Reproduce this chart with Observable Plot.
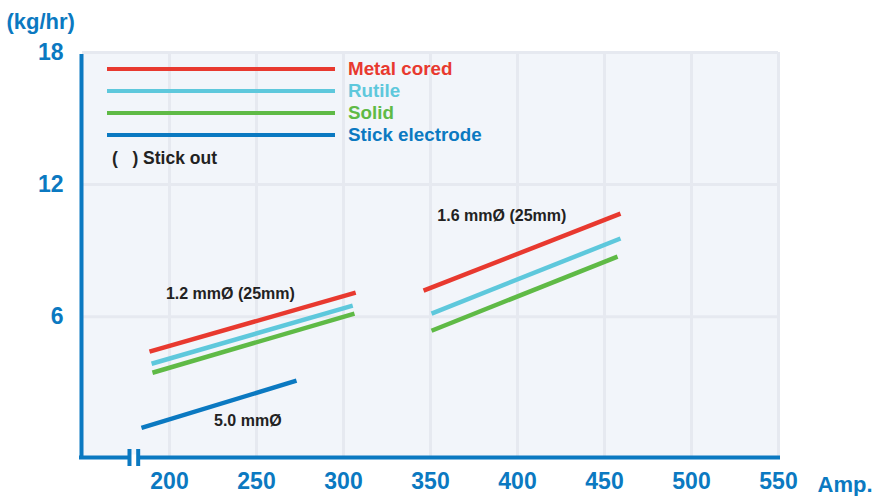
<!DOCTYPE html>
<html>
<head>
<meta charset="utf-8">
<script src="https://cdn.jsdelivr.net/npm/d3@7"></script>
<script src="https://cdn.jsdelivr.net/npm/@observablehq/plot@0.6"></script>
<style>
  html, body { margin: 0; padding: 0; background: #fff; }
  #wrap { position: relative; width: 874px; height: 496px; font-family: "Liberation Sans", Arial, sans-serif; }
  #legend { position: absolute; left: 107px; top: 58px; font-weight: bold; }
  .row { display: flex; align-items: center; height: 22px; }
  .sw { width: 228px; height: 4.5px; margin-right: 13px; }
  .lab { font-size: 18.8px; line-height: 22px; }
  .note { font-size: 17.5px; color: #222; margin-top: 1px; padding-left: 5px; height: 22px; line-height: 22px; white-space: pre; }
</style>
</head>
<body>
<div id="wrap"></div>
<script>
// ---- data ----
const series = ["Metal cored", "Rutile", "Solid", "Stick electrode"];
const colors = ["#e8392f", "#5ec8dc", "#5fba46", "#0b79c1"];

// line segments: amperage (x) and deposition rate kg/hr (y)
const segSeries = ["Metal cored", "Rutile", "Solid", "Metal cored", "Rutile", "Solid", "Stick electrode"];
const ampStart  = [188.5, 189.7, 190.2, 346.0, 350.6, 350.6, 183.9];
const ampEnd    = [307.0, 305.3, 306.3, 459.2, 459.2, 457.5, 273.0];
const rateStart = [4.41, 3.86, 3.45, 7.18, 6.14, 5.36, 0.95];
const rateEnd   = [7.09, 6.50, 6.14, 10.68, 9.55, 8.73, 3.09];

// annotations
const noteText = ["1.2 mmØ (25mm)", "1.6 mmØ (25mm)", "5.0 mmØ"];
const noteAmp  = [235, 391, 245];
const noteRate = [7.05, 10.59, 1.27];

// axes
const xDomain = [150, 550];
const yDomain = [-0.4, 18];
const xTicks = [200, 250, 300, 350, 400, 450, 500, 550];
const yTicks = [6, 12, 18];
const axisBreak = [177, 182];

const blue = "#0b79c1";

const segs = segSeries.map((s, i) => ({series: s, x1: ampStart[i], x2: ampEnd[i], y1: rateStart[i], y2: rateEnd[i]}));
const notes = noteText.map((t, i) => ({text: t, x: noteAmp[i], y: noteRate[i]}));

const chart = Plot.plot({
  width: 874,
  height: 496,
  marginLeft: 82,
  marginRight: 96,
  marginTop: 52,
  marginBottom: 39,
  style: {fontFamily: "'Liberation Sans', Arial, sans-serif", color: blue, fontWeight: "bold", background: "#fff"},
  x: {domain: xDomain},
  y: {domain: yDomain},
  color: {domain: series, range: colors},
  marks: [
    Plot.frame({fill: "#f2f5fa", stroke: "none"}),
    Plot.ruleX(xTicks, {stroke: "#e6e9f0", strokeWidth: 3}),
    Plot.ruleY(yTicks, {stroke: "#e6e9f0", strokeWidth: 3}),
    Plot.link(segs, {x1: "x1", y1: "y1", x2: "x2", y2: "y2", stroke: "series", strokeWidth: 4.5, strokeLinecap: "butt"}),
    Plot.text(notes, {x: "x", y: "y", text: "text", fill: "#222", fontSize: 16, fontWeight: "bold"}),
    // axis lines
    Plot.ruleX([xDomain[0]], {y1: yDomain[0], y2: yDomain[1], stroke: blue, strokeWidth: 4, dx: -1, insetBottom: -2}),
    Plot.ruleY([yDomain[0]], {x1: xDomain[0], x2: xDomain[1], stroke: blue, strokeWidth: 4, dx: -3, insetRight: -5}),
    // axis break
    Plot.ruleY([yDomain[0]], {x1: axisBreak[0], x2: axisBreak[1], stroke: "#fff", strokeWidth: 6}),
    Plot.ruleX(axisBreak, {y1: yDomain[0], y2: yDomain[0], insetTop: -8, insetBottom: -9, stroke: blue, strokeWidth: 4}),
    Plot.axisX({ticks: xTicks, tickSize: 0, tickPadding: 15, fontSize: 23, fontWeight: "bold", fill: blue, label: null}),
    Plot.axisY({ticks: yTicks, tickSize: 0, tickPadding: 19, fontSize: 23, fontWeight: "bold", fill: blue, label: null}),
    Plot.text(["(kg/hr)"], {frameAnchor: "top-left", dx: -76, dy: -31, textAnchor: "start", lineAnchor: "middle", fontSize: 22, fontWeight: "bold", fill: blue}),
    Plot.text(["Amp."], {frameAnchor: "bottom-right", dx: 39, dy: 27, textAnchor: "start", lineAnchor: "middle", fontSize: 22, fontWeight: "bold", fill: blue})
  ]
});

const wrap = document.getElementById("wrap");
wrap.appendChild(chart);

// legend overlay
const legend = document.createElement("div");
legend.id = "legend";
series.forEach((s, i) => {
  const row = document.createElement("div");
  row.className = "row";
  const sw = document.createElement("div");
  sw.className = "sw";
  sw.style.background = colors[i];
  const lab = document.createElement("span");
  lab.className = "lab";
  lab.style.color = colors[i];
  lab.textContent = s;
  row.appendChild(sw);
  row.appendChild(lab);
  legend.appendChild(row);
});
const note = document.createElement("div");
note.className = "note";
note.textContent = "(   ) Stick out";
legend.appendChild(note);
wrap.appendChild(legend);
</script>
</body>
</html>
